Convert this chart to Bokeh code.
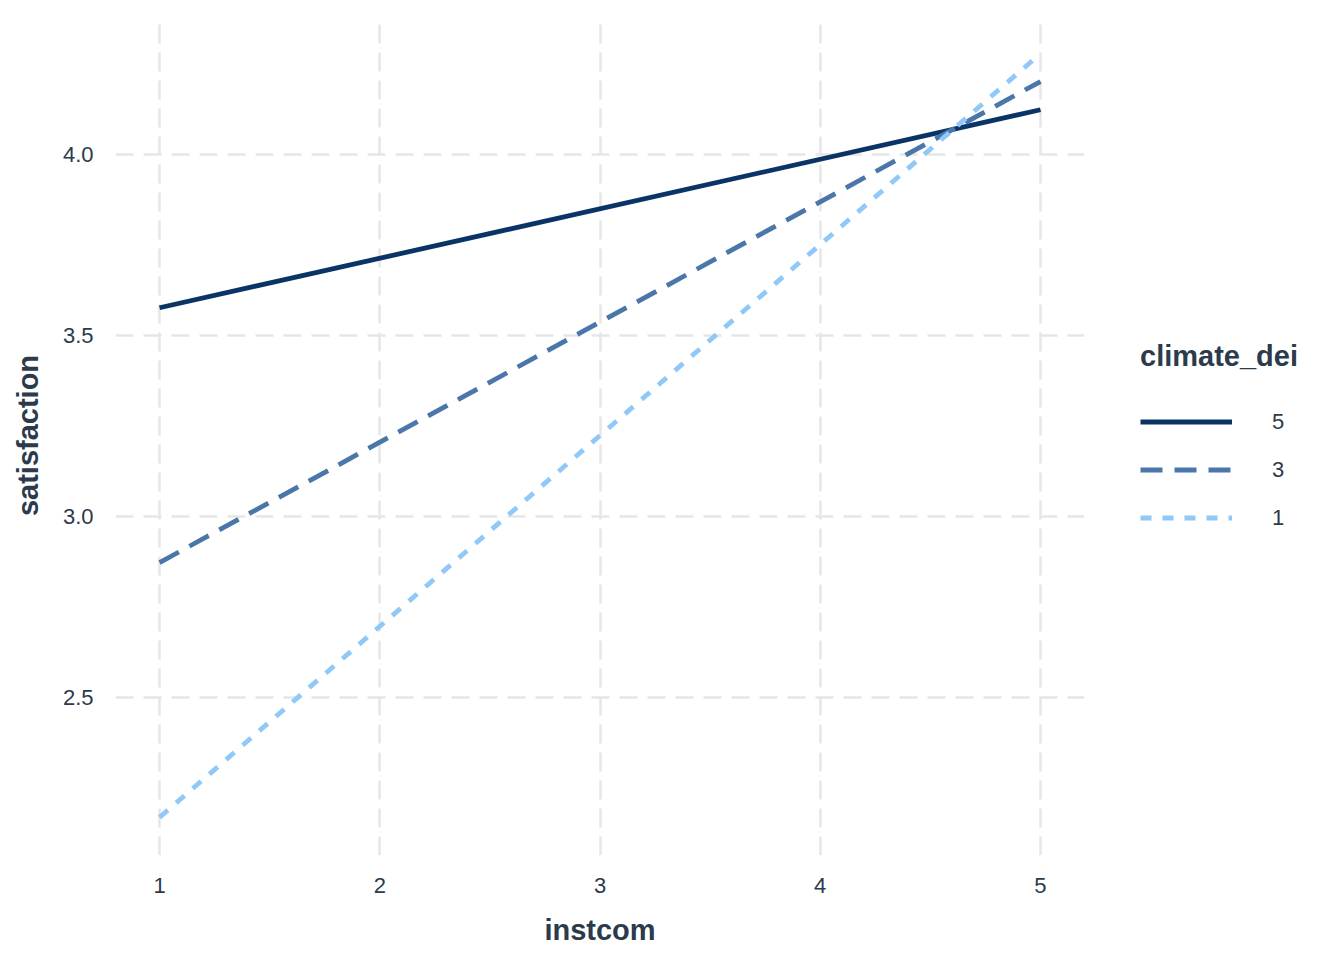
from bokeh.plotting import figure
from bokeh.models import Range1d, FixedTicker, Legend, LegendItem, CustomJSTickFormatter
from bokeh.embed import file_html
from bokeh.resources import INLINE

# ---- data ----
instcom = [1, 5]
sat_dei5 = [3.577, 4.124]
sat_dei3 = [2.873, 4.202]
sat_dei1 = [2.169, 4.279]
legend_labels = ["5", "3", "1"]
x_ticks = [1, 2, 3, 4, 5]
y_ticks = [2.5, 3.0, 3.5, 4.0]

FONT = "Liberation Sans"
TXT = "#2b3b4c"

p = figure(output_backend="svg", toolbar_location=None,
           frame_width=969, frame_height=840,
           min_border_left=115, min_border_right=252,
           min_border_top=15, min_border_bottom=97,
           x_range=Range1d(0.8, 5.2), y_range=Range1d(2.0635, 4.3845))
p.outline_line_color = None
p.background_fill_color = "white"
p.border_fill_color = "white"

for ax in (p.xaxis[0], p.yaxis[0]):
    ax.axis_line_color = None
    ax.major_tick_line_color = None
    ax.minor_tick_line_color = None
    ax.major_tick_out = 0
    ax.major_tick_in = 0
    ax.major_label_text_font = FONT
    ax.major_label_text_font_size = "22px"
    ax.major_label_text_color = TXT
    ax.axis_label_text_font = FONT
    ax.axis_label_text_font_size = "29px"
    ax.axis_label_text_font_style = "bold"
    ax.axis_label_text_color = TXT

p.xaxis.ticker = FixedTicker(ticks=x_ticks)
p.yaxis.ticker = FixedTicker(ticks=y_ticks)
p.yaxis.formatter = CustomJSTickFormatter(code="return tick.toFixed(1);")
p.xaxis.axis_label = "instcom"
p.yaxis.axis_label = "satisfaction"
p.xaxis.major_label_standoff = 22
p.xaxis.axis_label_standoff = 18
p.yaxis.major_label_standoff = 22
p.yaxis.axis_label_standoff = 16

for g in (p.xgrid[0], p.ygrid[0]):
    g.grid_line_color = "#e6e6e6"
    g.grid_line_width = 2.5
    g.minor_grid_line_color = None
p.xgrid.grid_line_dash = "19 9"
p.ygrid.grid_line_dash = "18 10"
p.xgrid.ticker = FixedTicker(ticks=x_ticks)
p.ygrid.ticker = FixedTicker(ticks=y_ticks)

r5 = p.line(instcom, sat_dei5, line_color="#0b3466", line_width=4.8)
r3 = p.line(instcom, sat_dei3, line_color="#4a76aa", line_width=4.8, line_dash="22 12")
r1 = p.line(instcom, sat_dei1, line_color="#90c8f8", line_width=4.8, line_dash="11 11")

legend = Legend(items=[LegendItem(label=legend_labels[0], renderers=[r5]),
                       LegendItem(label=legend_labels[1], renderers=[r3]),
                       LegendItem(label=legend_labels[2], renderers=[r1])],
                location="center_left")
legend.title = "climate_dei"
legend.title_text_font = FONT
legend.title_text_font_size = "29px"
legend.title_text_font_style = "bold"
legend.title_text_color = TXT
legend.title_standoff = 36
legend.label_text_font = FONT
legend.label_text_font_size = "22px"
legend.label_text_color = TXT
legend.glyph_width = 92
legend.glyph_height = 24
legend.label_height = 24
legend.spacing = 22
legend.label_standoff = 40
legend.padding = 0
legend.margin = 56
legend.border_line_color = None
legend.background_fill_alpha = 0
p.add_layout(legend, "right")

open("out.html", "w").write(file_html(p, INLINE))
